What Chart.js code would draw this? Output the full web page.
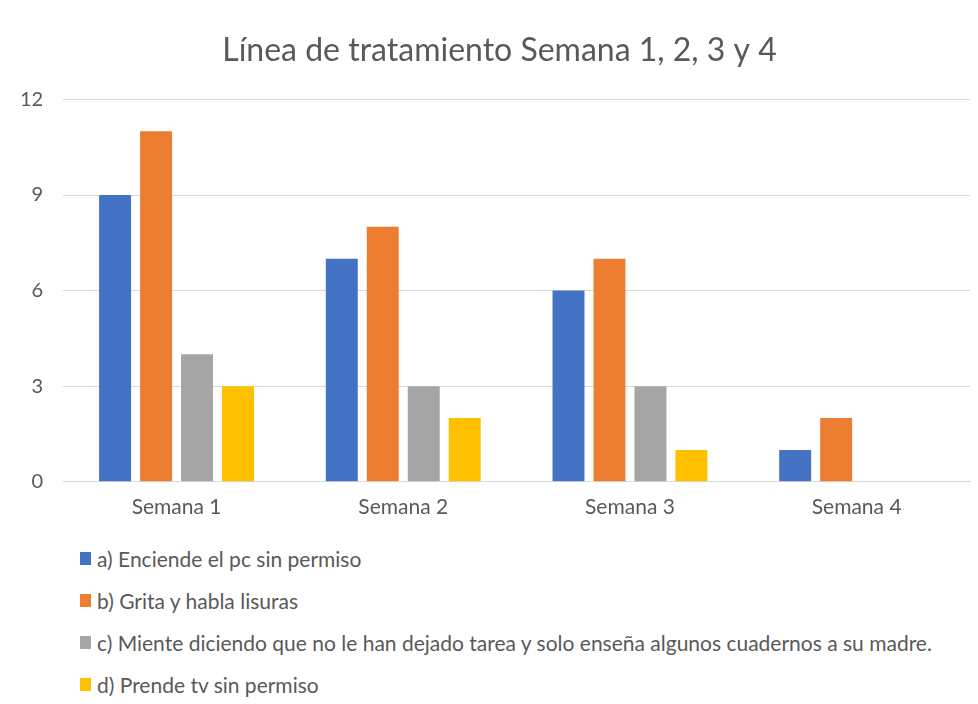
<!DOCTYPE html>
<html>
<head>
<meta charset="utf-8">
<script src="https://cdn.jsdelivr.net/npm/chart.js@4/dist/chart.umd.min.js"></script>
<style>
  body { margin: 0; background: #fff; font-family: Lato, "Open Sans", sans-serif; }
  #wrap { position: relative; width: 978px; height: 704px; }
  #box { position: absolute; left: 0; top: 0; width: 978px; height: 533px; }
  #legend { position: absolute; left: 80px; top: 537px; margin: 0; padding: 0; list-style: none; }
  #legend li { display: flex; align-items: center; height: 42px; font-size: 21px; color: #595959; }
  #legend span { display: inline-block; width: 11px; height: 13px; margin-right: 6px; }
</style>
</head>
<body>
<div id="wrap">
  <div id="box"><canvas id="myChart"></canvas></div>
  <ul id="legend"></ul>
</div>
<script>
const categories = ["Semana 1", "Semana 2", "Semana 3", "Semana 4"];
const seriesNames = [
  "a) Enciende el pc sin permiso",
  "b) Grita y habla lisuras",
  "c) Miente diciendo que no le han dejado tarea y solo enseña algunos cuadernos a su madre.",
  "d) Prende tv sin permiso"
];
const seriesA = [9, 7, 6, 1];
const seriesB = [11, 8, 7, 2];
const seriesC = [4, 3, 3, 0];
const seriesD = [3, 2, 1, 0];
const yTicks = [0, 3, 6, 9, 12];
const colors = ["#4472c4", "#ed7d31", "#a5a5a5", "#ffc000"];

const values = [seriesA, seriesB, seriesC, seriesD];
const datasets = seriesNames.map((name, i) => ({
  label: name,
  data: values[i],
  backgroundColor: colors[i],
  barPercentage: 0.78,
  categoryPercentage: 0.723
}));

// title sits a bit right of the canvas centre in the original
const titleShift = {
  id: "titleShift",
  afterLayout(chart) {
    if (chart.titleBlock) chart.titleBlock.left += 29;
  }
};

const chart = new Chart(document.getElementById("myChart"), {
  type: "bar",
  data: { labels: categories, datasets: datasets },
  plugins: [titleShift],
  options: {
    responsive: true,
    maintainAspectRatio: false,
    animation: false,
    layout: { padding: { left: 0, right: 8, top: 31, bottom: 0 } },
    plugins: {
      legend: { display: false },
      tooltip: { enabled: false },
      title: {
        display: true,
        text: "Línea de tratamiento Semana 1, 2, 3 y 4",
        color: "#595959",
        font: { family: "Lato", size: 32, weight: "normal" },
        padding: { top: 0, bottom: 30 }
      }
    },
    scales: {
      x: {
        grid: { display: false, drawTicks: false },
        border: { color: "#d9d9d9", width: 1 },
        ticks: { color: "#595959", font: { family: "Lato", size: 21 }, padding: 13 }
      },
      y: {
        min: 0,
        max: 12,
        afterBuildTicks: (axis) => { axis.ticks = yTicks.map(v => ({ value: v })); },
        grid: { color: "#d9d9d9", drawTicks: false },
        border: { display: false },
        ticks: { color: "#595959", font: { family: "Lato", size: 20 }, padding: 20 }
      }
    }
  }
});

// legend list, built from the chart datasets
const legend = document.getElementById("legend");
chart.data.datasets.forEach((ds) => {
  const li = document.createElement("li");
  const sw = document.createElement("span");
  sw.style.background = ds.backgroundColor;
  li.appendChild(sw);
  li.appendChild(document.createTextNode(ds.label));
  legend.appendChild(li);
});
</script>
</body>
</html>
